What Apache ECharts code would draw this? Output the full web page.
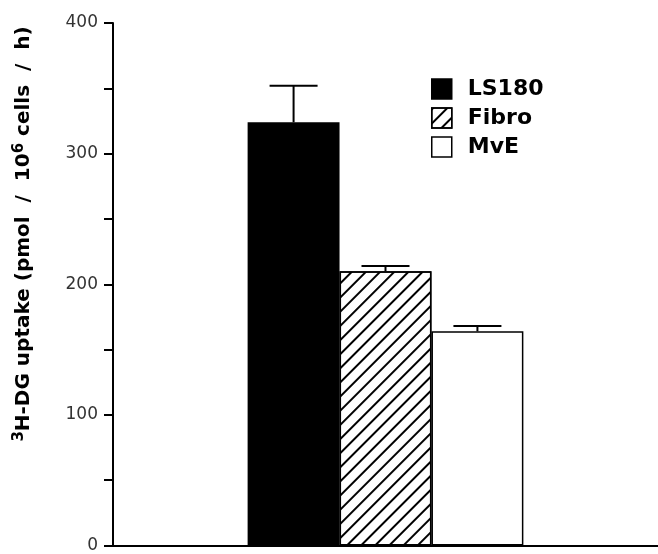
<!DOCTYPE html>
<html><head><meta charset="utf-8">
<script src="https://cdn.jsdelivr.net/npm/echarts@6/dist/echarts.min.js"></script>
<style>html,body{margin:0;padding:0;background:#fff}#c{width:658px;height:554px}</style>
</head><body><div id="c"></div>
<script>
const categories = ['3H-DG uptake'];
const seriesNames = ['LS180', 'Fibro', 'MvE'];
const means = [324, 210, 164];
const errors = [28, 4, 4];
const yTickValues = [0, 100, 200, 300, 400];
const yAxisTitle = '{s|3}H-DG uptake (pmol  /  10{s|6} cells  /  h)';

const CAT_GAP = 0.494;
const chart = echarts.init(document.getElementById('c'), null, {renderer: 'canvas'});

const hatch = {
  symbol: 'rect', symbolSize: 1, color: '#000',
  dashArrayX: [1, 0], dashArrayY: [1.4, 7.2], rotation: -Math.PI / 4
};
const styles = [
  {color: '#000', borderColor: '#000', borderWidth: 1.5},
  {color: '#fff', borderColor: '#000', borderWidth: 1.5, decal: hatch},
  {color: '#fff', borderColor: '#000', borderWidth: 1.5}
];

const barSeries = seriesNames.map((n, i) => ({
  name: n, type: 'bar', data: [means[i]],
  barGap: '0%', barCategoryGap: (CAT_GAP * 100) + '%',
  itemStyle: styles[i], z: 2
}));

const errData = means.map((m, i) => [0, m, errors[i], i]);

chart.setOption({
  animation: false,
  backgroundColor: '#fff',
  aria: {enabled: false},
  grid: {left: 113, right: 0, top: 23, bottom: 6, containLabel: false},
  legend: {
    left: 426, top: 73, orient: 'vertical', itemWidth: 20, itemHeight: 20, itemGap: 7,
    icon: 'rect', selectedMode: false,
    textStyle: {fontFamily: 'DejaVu Sans', fontWeight: 'bold', fontSize: 22, color: '#000', padding: [0, 0, 0, 11]},
    data: seriesNames.map((n, i) => ({name: n, itemStyle: styles[i]}))
  },
  xAxis: {
    type: 'category', data: categories,
    axisLine: {lineStyle: {color: '#000', width: 2}},
    axisTick: {show: false}, axisLabel: {show: false}, splitLine: {show: false}
  },
  yAxis: {
    type: 'value', min: yTickValues[0], max: yTickValues[yTickValues.length - 1], interval: 100,
    axisLine: {show: true, lineStyle: {color: '#000', width: 2}},
    axisTick: {show: true, inside: false, length: 9, lineStyle: {color: '#000', width: 2}},
    minorTick: {show: true, splitNumber: 2, length: 9, lineStyle: {color: '#000', width: 2}},
    splitLine: {show: false},
    axisLabel: {fontFamily: 'DejaVu Sans', fontSize: 17, color: '#333', margin: 15}
  },
  graphic: [{
    type: 'text', x: 24, y: 234, rotation: Math.PI / 2,
    style: {
      text: yAxisTitle, align: 'center', verticalAlign: 'middle',
      fontFamily: 'DejaVu Sans', fontWeight: 'bold', fontSize: 20, fill: '#000',
      rich: {s: {fontFamily: 'DejaVu Sans', fontWeight: 'bold', fontSize: 15, padding: [0, 0, 9, 0]}}
    }
  }],
  series: barSeries.concat([{
    type: 'custom', name: 'err', data: errData, z: 5,
    encode: {x: 0, y: 1},
    renderItem: function (params, api) {
      const band = api.size([1, 0])[0];
      const bw = band * (1 - CAT_GAP) / 3;
      const base = api.coord([api.value(0), api.value(1)]);
      const top = api.coord([api.value(0), api.value(1) + api.value(2)]);
      const cx = base[0] + (api.value(3) - 1) * bw;
      const half = 24;
      const ls = {stroke: '#000', lineWidth: 2};
      return {type: 'group', children: [
        {type: 'line', shape: {x1: cx, y1: base[1], x2: cx, y2: top[1]}, style: ls},
        {type: 'line', shape: {x1: cx - half, y1: top[1], x2: cx + half, y2: top[1]}, style: ls}
      ]};
    }
  }])
});
</script></body></html>
